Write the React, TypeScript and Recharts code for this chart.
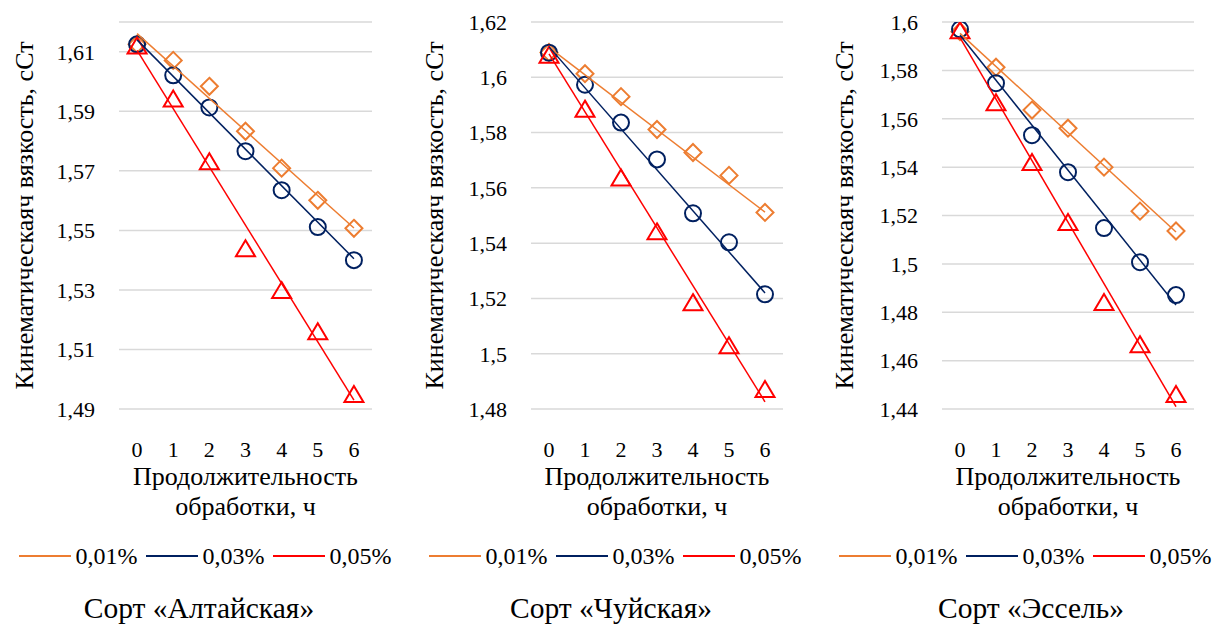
import React from "react";
import { ComposedChart, Scatter, XAxis, YAxis, CartesianGrid } from "recharts";

const hours = [0, 1, 2, 3, 4, 5, 6];
const trendHours = [0, 6];
const seriesNames = ["0,01%", "0,03%", "0,05%"];
const seriesColors = ["#ED7D31", "#002060", "#FF0000"];

// Сорт «Алтайская»
const altai001 = [1.6125, 1.6071, 1.5984, 1.5833, 1.5709, 1.5601, 1.5507];
const altai003 = [1.6125, 1.6021, 1.5913, 1.5766, 1.5635, 1.5511, 1.54];
const altai005 = [1.6118, 1.594, 1.5729, 1.5437, 1.5296, 1.5158, 1.4947];
const altaiTrend001 = [1.6161, 1.5508];
const altaiTrend003 = [1.614, 1.5405];
const altaiTrend005 = [1.6105, 1.493];
const altaiTicks = [1.49, 1.51, 1.53, 1.55, 1.57, 1.59, 1.61];

// Сорт «Чуйская»
const chui001 = [1.609, 1.6013, 1.593, 1.5811, 1.5728, 1.5645, 1.5511];
const chui003 = [1.6089, 1.5973, 1.5836, 1.5703, 1.5508, 1.5403, 1.5215];
const chui005 = [1.6078, 1.5883, 1.5634, 1.5439, 1.5183, 1.5027, 1.4869];
const chuiTrend001 = [1.6108, 1.5512];
const chuiTrend003 = [1.611, 1.522];
const chuiTrend005 = [1.6085, 1.4826];
const chuiTicks = [1.48, 1.5, 1.52, 1.54, 1.56, 1.58, 1.6, 1.62];

// Сорт «Эссель»
const essel001 = [1.596, 1.5813, 1.5636, 1.5561, 1.54, 1.5218, 1.5136];
const essel003 = [1.597, 1.5747, 1.5532, 1.5379, 1.5148, 1.5007, 1.4871];
const essel005 = [1.5962, 1.5664, 1.5417, 1.5169, 1.4838, 1.4664, 1.4458];
const esselTrend001 = [1.5953, 1.5132];
const esselTrend003 = [1.5945, 1.483];
const esselTrend005 = [1.5935, 1.441];
const esselTicks = [1.44, 1.46, 1.48, 1.5, 1.52, 1.54, 1.56, 1.58, 1.6];

const yTitle = "Кинематическаяч вязкость, сСт";
const xTitle = ["Продолжительность", "обработки, ч"];

const FONT = "Liberation Serif, Tinos, Times New Roman, DejaVu Serif, serif";
const CHART_W = 410;
const CHART_H = 630;
const PLOT_TOP = 22;
const PLOT_BOTTOM = 409;
const Y_AXIS_W = 60;
const X_AXIS_H = 30;

const toPoints = (xs: number[], ys: number[]) => xs.map((x, i) => ({ x, y: ys[i] }));
const fmt = (v: number) => String(+v.toFixed(2)).replace(".", ",");

const Diamond = (p: any) => {
  const { cx, cy } = p;
  const r = 8.5;
  return (
    <path
      d={`M${cx},${cy - r}L${cx + r},${cy}L${cx},${cy + r}L${cx - r},${cy}Z`}
      fill="none"
      stroke={seriesColors[0]}
      strokeWidth={2}
    />
  );
};

const Ring = (p: any) => (
  <circle cx={p.cx} cy={p.cy} r={8} fill="none" stroke={seriesColors[1]} strokeWidth={2} />
);

const Triangle = (p: any) => {
  const { cx, cy } = p;
  return (
    <path
      d={`M${cx},${cy - 9}L${cx + 9.5},${cy + 7}L${cx - 9.5},${cy + 7}Z`}
      fill="none"
      stroke={seriesColors[2]}
      strokeWidth={2}
    />
  );
};

const shapes = [Diamond, Ring, Triangle];
const NoDot = () => <g />;

interface PanelProps {
  left: number;
  plotLeft: number;
  plotRight: number;
  captionCenter: number;
  caption: string;
  values: number[][];
  trends: number[][];
  ticks: number[];
  domain: [number, number];
}

function Panel(props: PanelProps) {
  const { left, plotLeft, plotRight, captionCenter, caption, values, trends, ticks, domain } = props;
  const plotCenter = (plotLeft + plotRight) / 2;
  const midY = (PLOT_TOP + PLOT_BOTTOM) / 2;
  return (
    <div style={{ position: "absolute", left, top: 0, width: CHART_W, height: CHART_H }}>
      <ComposedChart
        width={CHART_W}
        height={CHART_H}
        style={{ fontFamily: FONT }}
        margin={{
          top: PLOT_TOP,
          right: CHART_W - plotRight,
          bottom: CHART_H - PLOT_BOTTOM - X_AXIS_H,
          left: plotLeft - Y_AXIS_W,
        }}
      >
        <CartesianGrid vertical={false} stroke="#d9d9d9" strokeWidth={1.5} />
        <XAxis
          type="number"
          dataKey="x"
          domain={[-0.5, 6.5]}
          ticks={hours}
          height={X_AXIS_H}
          axisLine={false}
          tickLine={false}
          tickSize={0}
          tickMargin={32}
          interval={0}
          tick={{ fontSize: 22, fill: "#000", fontFamily: FONT }}
        />
        <YAxis
          type="number"
          dataKey="y"
          domain={domain}
          ticks={ticks}
          allowDataOverflow
          width={Y_AXIS_W}
          axisLine={false}
          tickLine={false}
          tickSize={0}
          tickMargin={24}
          interval={0}
          tickFormatter={fmt}
          tick={{ fontSize: 22, fill: "#000", fontFamily: FONT }}
          label={() => (
            <text
              x={33}
              y={midY}
              transform={`rotate(-90, 33, ${midY})`}
              textAnchor="middle"
              fontSize={26}
              fontFamily={FONT}
              fill="#000"
            >
              {yTitle}
            </text>
          )}
        />
        {values.map((vals, i) => (
          <Scatter
            key={`pts-${i}`}
            data={toPoints(hours, vals)}
            shape={shapes[i]}
            isAnimationActive={false}
            legendType="none"
          />
        ))}
        {trends.map((tr, i) => (
          <Scatter
            key={`trend-${i}`}
            data={toPoints(trendHours, tr)}
            line={{ stroke: seriesColors[i], strokeWidth: 1.5 }}
            shape={NoDot}
            isAnimationActive={false}
            legendType="none"
          />
        ))}
      </ComposedChart>

      <div
        style={{
          position: "absolute",
          left: plotCenter - 150,
          width: 300,
          top: 462,
          textAlign: "center",
          fontFamily: FONT,
          fontSize: 26,
          lineHeight: "30px",
          color: "#000",
          whiteSpace: "nowrap",
        }}
      >
        {xTitle[0]}
        <br />
        {xTitle[1]}
      </div>

      <div
        style={{
          position: "absolute",
          left: 0,
          width: CHART_W,
          top: 540,
          height: 32,
          display: "flex",
          justifyContent: "center",
          alignItems: "center",
          fontFamily: FONT,
          fontSize: 24,
          color: "#000",
          whiteSpace: "nowrap",
        }}
      >
        {seriesNames.map((name, i) => (
          <div key={name} style={{ display: "flex", alignItems: "center", marginRight: i < 2 ? 8 : 0 }}>
            <div style={{ width: 52, height: 2, background: seriesColors[i], marginRight: 5 }} />
            <span>{name}</span>
          </div>
        ))}
      </div>

      <div
        style={{
          position: "absolute",
          left: captionCenter - 200,
          width: 400,
          top: 590,
          textAlign: "center",
          fontFamily: FONT,
          fontSize: 29.5,
          lineHeight: "36px",
          color: "#000",
          whiteSpace: "nowrap",
        }}
      >
        {caption}
      </div>
    </div>
  );
}

export default function App() {
  return (
    <div
      style={{
        position: "absolute",
        left: 0,
        top: 0,
        width: 1216,
        height: 630,
        overflow: "hidden",
        background: "#fff",
        fontFamily: FONT,
      }}
    >
      <Panel
        left={0}
        plotLeft={119}
        plotRight={372}
        captionCenter={199}
        caption="Сорт «Алтайская»"
        values={[altai001, altai003, altai005]}
        trends={[altaiTrend001, altaiTrend003, altaiTrend005]}
        ticks={altaiTicks}
        domain={[1.49, 1.62]}
      />
      <Panel
        left={410}
        plotLeft={121}
        plotRight={373}
        captionCenter={201}
        caption="Сорт «Чуйская»"
        values={[chui001, chui003, chui005]}
        trends={[chuiTrend001, chuiTrend003, chuiTrend005]}
        ticks={chuiTicks}
        domain={[1.48, 1.62]}
      />
      <Panel
        left={820}
        plotLeft={122}
        plotRight={374}
        captionCenter={211}
        caption="Сорт «Эссель»"
        values={[essel001, essel003, essel005]}
        trends={[esselTrend001, esselTrend003, esselTrend005]}
        ticks={esselTicks}
        domain={[1.44, 1.6]}
      />
    </div>
  );
}
